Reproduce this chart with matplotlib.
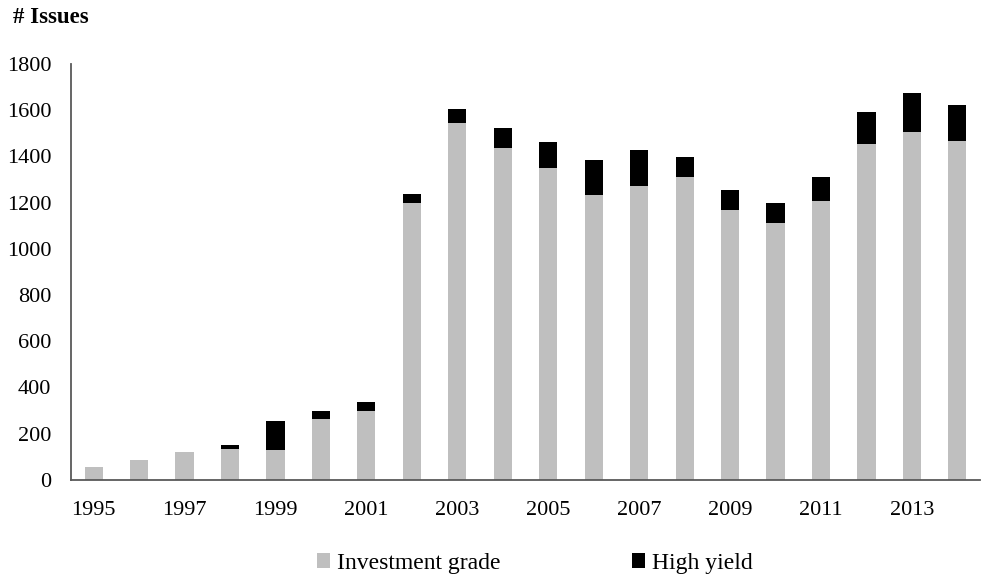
import numpy as np
import matplotlib
matplotlib.use("Agg")
import matplotlib.pyplot as plt

plt.rcParams['font.family'] = ['Liberation Serif', 'DejaVu Serif']

# data
years = list(range(1995, 2015))
inv_grade = [55, 85, 120, 135, 128, 263, 297, 1197, 1543, 1435,
             1350, 1232, 1271, 1310, 1167, 1111, 1206, 1455, 1505, 1466]
total = [55, 85, 120, 150, 254, 299, 338, 1236, 1604, 1524,
         1464, 1385, 1429, 1396, 1256, 1196, 1310, 1594, 1673, 1624]
high_yield = [t - i for t, i in zip(total, inv_grade)]

fig = plt.figure(figsize=(9.85, 5.76), dpi=100)
ax = fig.add_axes([0.072, 0.167, 0.923, 0.722])

x = np.arange(len(years))
ax.bar(x, inv_grade, width=0.4, color='#bfbfbf', label='Investment grade')
ax.bar(x, high_yield, width=0.4, bottom=inv_grade, color='black', label='High yield')

ax.set_xlim(-0.5, len(years) - 0.5)
ax.set_ylim(0, 1800)
ax.set_yticks(range(0, 1801, 200))
ax.set_xticks(x[::2])
ax.set_xticklabels([str(y) for y in years[::2]])
ax.tick_params(axis='both', length=0, labelsize=16)
ax.tick_params(axis='x', pad=15)
ax.tick_params(axis='y', pad=14)

for s in ['top', 'right']:
    ax.spines[s].set_visible(False)
for s in ['left', 'bottom']:
    ax.spines[s].set_color('#595959')
    ax.spines[s].set_linewidth(1.3)

fig.text(0.013, 0.97, '# Issues', fontsize=16.5, fontweight='bold', va='center')

fig.legend(loc='center', bbox_to_anchor=(0.543, 0.022), ncol=2, frameon=False,
           fontsize=17, handlelength=0.55, handleheight=0.55, handletextpad=0.3,
           columnspacing=5.6)

fig.savefig('out.png', dpi=100)
